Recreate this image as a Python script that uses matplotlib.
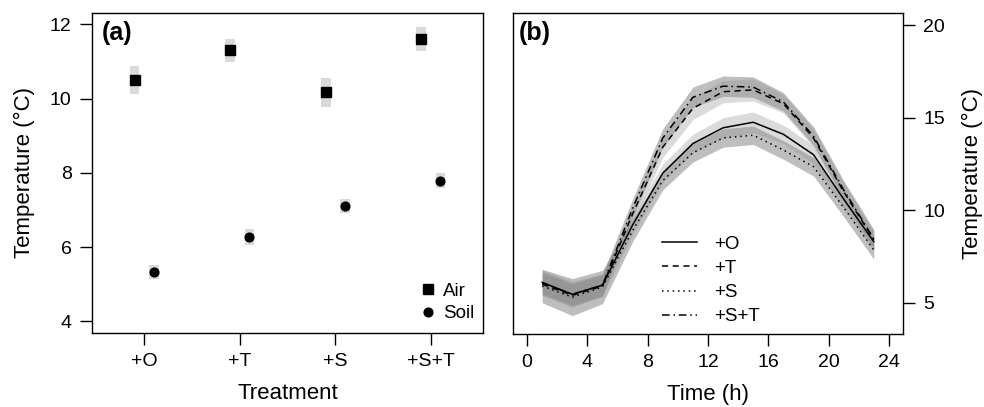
import matplotlib
matplotlib.use("Agg")
from matplotlib import pyplot as plt
import numpy as np

plt.rcParams['font.family'] = ['Liberation Sans', 'DejaVu Sans']

# panel (a) data
treatments = ['+O', '+T', '+S', '+S+T']
air_mean = [10.51, 11.30, 10.17, 11.60]
air_err = [0.37, 0.31, 0.39, 0.32]
soil_mean = [5.34, 6.27, 7.11, 7.79]
soil_err = [0.19, 0.21, 0.20, 0.20]

# panel (b) data
hours = [1, 3, 5, 7, 9, 11, 13, 15, 17, 19, 21, 23]
t_O = [6.10, 5.45, 5.95, 9.2, 12.0, 13.6, 14.45, 14.75, 14.1, 13.0, 10.6, 8.3]
t_T = [6.00, 5.40, 5.90, 9.8, 13.4, 15.5, 16.4, 16.5, 15.75, 13.9, 11.0, 8.4]
t_S = [5.90, 5.30, 5.85, 8.9, 11.6, 13.1, 13.9, 14.05, 13.25, 12.35, 10.15, 7.85]
t_ST = [6.07, 5.45, 5.95, 10.1, 13.9, 16.1, 16.7, 16.65, 15.85, 14.0, 11.1, 8.45]
sd_O = [0.7, 0.7, 0.6, 0.5, 0.5, 0.5, 0.55, 0.55, 0.5, 0.5, 0.5, 0.5]
sd_T = [0.6, 0.6, 0.5, 0.5, 0.55, 0.6, 0.6, 0.6, 0.5, 0.5, 0.5, 0.5]
sd_S = [0.9, 1.0, 0.9, 0.6, 0.5, 0.5, 0.5, 0.5, 0.5, 0.5, 0.5, 0.5]
sd_ST = [0.6, 0.6, 0.6, 0.5, 0.5, 0.55, 0.55, 0.55, 0.5, 0.5, 0.5, 0.5]

fig = plt.figure(figsize=(9.84, 4.07), dpi=100)
ax1 = fig.add_axes([0.0932, 0.181, 0.398, 0.788])
ax2 = fig.add_axes([0.521, 0.179, 0.397, 0.788])

# ---- (a)
x = np.arange(1, len(treatments) + 1)
am = np.array(air_mean); ae = np.array(air_err)
sm = np.array(soil_mean); se = np.array(soil_err)
ax1.bar(x - 0.1, 2 * ae, bottom=am - ae, width=0.1, color='#dadada', zorder=1)
ax1.bar(x + 0.1, 2 * se, bottom=sm - se, width=0.1, color='#dadada', zorder=1)
ax1.plot(x - 0.1, am, 's', color='black', ms=6.5, ls='none', label='Air', zorder=3)
ax1.plot(x + 0.1, sm, 'o', color='black', ms=6.3, ls='none', label='Soil', zorder=3)
ax1.set_xlim(0.45, 4.55)
ax1.set_ylim(3.68, 12.32)
ax1.set_xticks(x)
ax1.set_xticklabels(treatments)
ax1.set_yticks([4, 6, 8, 10, 12])
ax1.set_xlabel('Treatment', fontsize=16, labelpad=9)
ax1.set_ylabel('Temperature (°C)', fontsize=16, labelpad=11)
ax1.text(0.025, 0.975, '(a)', transform=ax1.transAxes, fontsize=18,
         fontweight='bold', va='top', ha='left')
ax1.legend(loc='lower right', bbox_to_anchor=(1.0, 0.005), frameon=False,
           fontsize=13.5, handletextpad=0.2, borderaxespad=0.1,
           labelspacing=0.3, handlelength=1.2)

# ---- (b)
h = np.array(hours)
series = [(t_O, sd_O, '-', '#b8b8b8', 0.5, '+O'),
          (t_T, sd_T, (0, (4, 3)), '#b8b8b8', 0.5, '+T'),
          (t_S, sd_S, (0, (1, 2.5)), '#8a8a8a', 0.55, '+S'),
          (t_ST, sd_ST, (0, (5, 2.5, 1, 2.5)), '#8a8a8a', 0.55, '+S+T')]
for m, s, ls, col, a, lab in series:
    m = np.array(m); s = np.array(s)
    ax2.fill_between(h, m - s, m + s, color=col, alpha=a, lw=0, zorder=1)
for m, s, ls, col, a, lab in series:
    ax2.plot(h, m, color='black', lw=1.1, linestyle=ls, label=lab, zorder=3)
ax2.set_xlim(-0.96, 24.96)
ax2.set_ylim(3.3, 20.63)
ax2.set_xticks([0, 4, 8, 12, 16, 20, 24])
ax2.set_yticks([5, 10, 15, 20])
ax2.yaxis.tick_right()
ax2.yaxis.set_label_position('right')
ax2.set_xlabel('Time (h)', fontsize=16, labelpad=9)
ax2.set_ylabel('Temperature (°C)', fontsize=16, labelpad=12)
ax2.text(0.015, 0.975, '(b)', transform=ax2.transAxes, fontsize=18,
         fontweight='bold', va='top', ha='left')
ax2.legend(loc='upper left', bbox_to_anchor=(0.338, 0.36), frameon=False,
           fontsize=13.5, handlelength=1.9, handletextpad=0.9, labelspacing=0.38)

for ax in (ax1, ax2):
    ax.tick_params(direction='out', length=8.5, width=1, labelsize=14, pad=6)
    for sp in ax.spines.values():
        sp.set_linewidth(1)

fig.savefig('out.png', dpi=100)
